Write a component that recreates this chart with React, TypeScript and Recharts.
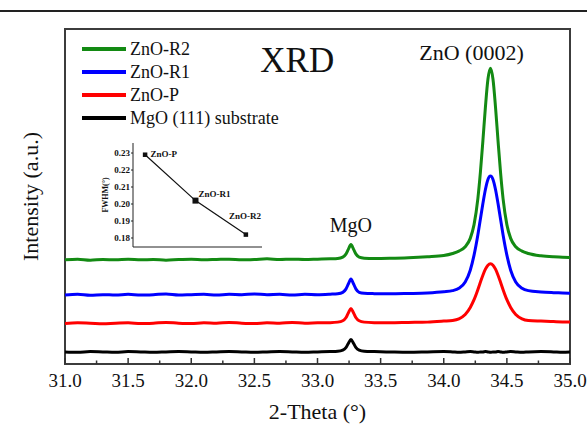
import React from 'react';
import { LineChart, Line, XAxis, YAxis, ReferenceArea, ReferenceDot, Legend, LabelList } from 'recharts';

const FONT = '"Liberation Serif", "Times New Roman", "DejaVu Serif", serif';

// 2-Theta positions (degrees)
const twoTheta = [
  31.0, 31.1, 31.2, 31.3, 31.4, 31.5, 31.6, 31.7, 31.8, 31.9,
  32.0, 32.1, 32.2, 32.3, 32.4, 32.5, 32.6, 32.7, 32.8, 32.9,
  33.0, 33.1, 33.16, 33.2, 33.225, 33.245, 33.265, 33.285, 33.305, 33.33,
  33.37, 33.45, 33.57, 33.72, 33.87, 34.0, 34.07, 34.12, 34.17, 34.21,
  34.24, 34.27, 34.29, 34.31, 34.33, 34.35, 34.37, 34.39, 34.41, 34.43,
  34.45, 34.47, 34.5, 34.53, 34.57, 34.62, 34.67, 34.77, 34.87, 34.94,
  35.0,
];

// Intensities (offset, arbitrary units)
const znoR2 = [
  31.1, 31.3, 31.0, 31.2, 31.1, 31.3, 31.1, 31.2, 31.0, 31.2,
  31.3, 31.1, 31.2, 31.3, 31.1, 31.2, 31.4, 31.2, 31.3, 31.2,
  31.3, 31.4, 31.5, 31.9, 32.8, 34.3, 35.7, 34.3, 32.8, 31.9,
  31.6, 31.5, 31.55, 31.7, 32.0, 32.4, 33.0, 33.7, 35.0, 37.5,
  41.6, 49.3, 57.1, 66.6, 76.7, 85.0, 88.3, 85.0, 76.7, 66.6,
  57.1, 49.3, 41.6, 37.5, 35.0, 33.7, 33.0, 32.3, 32.0, 31.9,
  31.8,
];
const znoR1 = [
  20.6, 20.8, 20.5, 20.7, 20.6, 20.8, 20.6, 20.7, 20.9, 20.6,
  20.7, 20.8, 20.6, 20.8, 20.7, 20.9, 20.7, 20.8, 20.6, 20.8,
  20.7, 20.85, 21.0, 21.4, 22.35, 23.95, 25.35, 23.95, 22.35, 21.4,
  21.1, 21.0, 20.95, 21.05, 21.2, 21.55, 21.9, 22.6, 24.5, 28.0,
  32.5, 38.5, 43.2, 47.9, 52.1, 55.1, 56.1, 55.1, 52.1, 47.9,
  43.2, 38.5, 32.5, 28.0, 24.5, 22.6, 21.9, 21.5, 21.3, 21.2,
  21.1,
];
const znoP = [
  12.1, 12.3, 12.2, 12.0, 12.2, 12.3, 12.1, 12.2, 12.4, 12.2,
  12.1, 12.3, 12.2, 12.4, 12.2, 12.1, 12.3, 12.2, 12.4, 12.2,
  12.3, 12.35, 12.5, 12.9, 13.8, 15.3, 16.6, 15.3, 13.8, 12.9,
  12.5, 12.35, 12.3, 12.4, 12.5, 12.8, 13.0, 13.5, 14.8, 16.9,
  19.2, 22.2, 24.4, 26.5, 28.3, 29.5, 29.9, 29.5, 28.3, 26.5,
  24.4, 22.2, 19.2, 16.9, 14.8, 13.5, 13.0, 12.8, 12.65, 12.55,
  12.5,
];
const mgoSubstrate = [
  3.6, 3.5, 3.7, 3.6, 3.5, 3.7, 3.6, 3.5, 3.6, 3.7,
  3.6, 3.5, 3.6, 3.7, 3.6, 3.5, 3.6, 3.7, 3.6, 3.5,
  3.6, 3.7, 3.8, 4.15, 4.9, 6.2, 7.3, 6.2, 4.9, 4.15,
  3.8, 3.7, 3.6, 3.5, 3.6, 3.7, 3.6, 3.5, 3.6, 3.7,
  3.6, 3.5, 3.6, 3.6, 3.7, 3.6, 3.5, 3.6, 3.6, 3.7,
  3.6, 3.5, 3.6, 3.7, 3.6, 3.5, 3.6, 3.7, 3.6, 3.5,
  3.6,
];

const xTicks = [31, 31.25, 31.5, 31.75, 32, 32.25, 32.5, 32.75, 33, 33.25, 33.5, 33.75, 34, 34.25, 34.5, 34.75, 35];

const seriesNames = ['ZnO-R2', 'ZnO-R1', 'ZnO-P', 'MgO (111) substrate'];
const seriesKeys = ['r2', 'r1', 'p', 'mgo'];
const seriesColors = ['#138a13', '#0000ff', '#ff0000', '#000000'];

// Inset: FWHM
const insetSamples = ['ZnO-P', 'ZnO-R1', 'ZnO-R2'];
const insetIndex = [1, 2, 3];
const insetFwhm = [0.229, 0.202, 0.182];
const insetTicks = [0.18, 0.19, 0.2, 0.21, 0.22, 0.23];

const data = twoTheta.map((x, i) => ({ x, r2: znoR2[i], r1: znoR1[i], p: znoP[i], mgo: mgoSubstrate[i] }));
const insetData = insetIndex.map((x, i) => ({ x, fwhm: insetFwhm[i], name: insetSamples[i] }));

const XTick = (props: any) => {
  const { x, y, payload } = props;
  const v = payload.value;
  const major = Math.abs(v * 2 - Math.round(v * 2)) < 1e-6;
  return (
    <g>
      <line x1={x} x2={x} y1={y} y2={y - (major ? 6 : 3.5)} stroke="#333" strokeWidth={1.5} />
      {major && (
        <text x={x} y={y + 23} textAnchor="middle" fontSize={19} style={{ fontFamily: FONT }} fill="#111">
          {v.toFixed(1)}
        </text>
      )}
    </g>
  );
};

const XTitle = (props: any) => {
  const vb = props.viewBox || { x: 65, y: 364, width: 505 };
  return (
    <text x={vb.x + vb.width / 2} y={vb.y + 55} textAnchor="middle" fontSize={22} style={{ fontFamily: FONT }} fill="#111">
      2-Theta (°)
    </text>
  );
};

const YTitle = (props: any) => {
  const vb = props.viewBox || { x: 0, y: 29, width: 65, height: 335 };
  const cx = vb.x + 38;
  const cy = vb.y + vb.height / 2;
  return (
    <text x={cx} y={cy} transform={`rotate(-90 ${cx} ${cy})`} textAnchor="middle" fontSize={22} style={{ fontFamily: FONT }} fill="#111">
      Intensity (a.u.)
    </text>
  );
};

const Anno = (props: any) => {
  const vb = props.viewBox || { x: 0, y: 0 };
  return (
    <text x={vb.x} y={vb.y} textAnchor="middle" fontSize={props.size} style={{ fontFamily: FONT }} fill="#111">
      {props.text}
    </text>
  );
};

const LegendContent = () => (
  <div style={{ fontFamily: FONT, fontSize: 18, color: '#111' }}>
    {seriesNames.map((n, i) => (
      <div key={n} style={{ display: 'flex', alignItems: 'center', height: 23 }}>
        <svg width={44} height={6} style={{ display: 'block' }}>
          <line x1={0} x2={44} y1={3} y2={3} stroke={seriesColors[i]} strokeWidth={4} />
        </svg>
        <span style={{ marginLeft: 4, lineHeight: '23px', position: 'relative', top: 1 }}>{n}</span>
      </div>
    ))}
  </div>
);

const SquareDot = (props: any) => {
  const { cx, cy, index } = props;
  const s = index === 1 ? 6 : 4.5;
  return <rect x={cx - s / 2} y={cy - s / 2} width={s} height={s} fill="#111" />;
};

const insetOffsets = [
  { dx: 5.5, dy: 2 },
  { dx: 3, dy: -4 },
  { dx: -17, dy: -16 },
];

const InsetLabel = (props: any) => {
  const { x, y, value, index } = props;
  const o = insetOffsets[index] || { dx: 0, dy: 0 };
  return (
    <text x={x + o.dx} y={y + o.dy} fontSize={9} fontWeight="bold" style={{ fontFamily: FONT }} fill="#111">
      {value}
    </text>
  );
};

const InsetYTitle = (props: any) => {
  const vb = props.viewBox || { x: 8, y: 8, width: 30, height: 104 };
  const cx = vb.x + 5;
  const cy = vb.y + vb.height / 2;
  return (
    <text x={cx} y={cy} transform={`rotate(-90 ${cx} ${cy})`} textAnchor="middle" fontSize={8} fontWeight="bold" style={{ fontFamily: FONT }} fill="#111">
      FWHM(°)
    </text>
  );
};

export default function App() {
  return (
    <div style={{ position: 'absolute', left: 0, top: 0, width: 587, height: 426, background: '#fff', overflow: 'hidden', fontFamily: FONT }}>
      <div style={{ position: 'absolute', left: 0, top: 10, width: 587, height: 2, background: '#222' }} />
      <LineChart width={587} height={426} data={data} margin={{ top: 29, right: 17, left: 0, bottom: 0 }}>
        <XAxis
          type="number"
          dataKey="x"
          domain={[31, 35]}
          ticks={xTicks}
          interval={0}
          tickSize={0}
          tickMargin={0}
          tickLine={false}
          axisLine={false}
          tick={<XTick />}
          height={62}
          allowDataOverflow
          label={<XTitle />}
        />
        <YAxis
          type="number"
          domain={[0, 100]}
          tick={false}
          tickLine={false}
          axisLine={false}
          width={65}
          allowDataOverflow
          label={<YTitle />}
        />
        <ReferenceArea x1={31} x2={35} y1={0} y2={100} fill="none" fillOpacity={0} stroke="#3c3c3c" strokeWidth={2} />
        {[3, 2, 1, 0].map((i) => (
          <Line
            key={seriesKeys[i]}
            type="monotone"
            dataKey={seriesKeys[i]}
            name={seriesNames[i]}
            stroke={seriesColors[i]}
            strokeWidth={3}
            dot={false}
            activeDot={false}
            isAnimationActive={false}
          />
        ))}
        <ReferenceDot x={32.84} y={87.2} r={0} fill="none" stroke="none" label={<Anno text="XRD" size={35} />} />
        <ReferenceDot x={34.22} y={90.7} r={0} fill="none" stroke="none" label={<Anno text="ZnO (0002)" size={22} />} />
        <ReferenceDot x={33.265} y={39.4} r={0} fill="none" stroke="none" label={<Anno text="MgO" size={20} />} />
        <Legend
          layout="vertical"
          align="center"
          verticalAlign="middle"
          content={<LegendContent />}
          wrapperStyle={{ left: 82, top: 37, width: 230, height: 92 }}
        />
      </LineChart>
      <div style={{ position: 'absolute', left: 95, top: 135 }}>
        <LineChart width={180} height={125} data={insetData} margin={{ top: 8, right: 13, bottom: 12, left: 8 }}>
          <XAxis
            type="number"
            dataKey="x"
            domain={[0.76, 3.32]}
            tick={false}
            tickLine={false}
            height={1}
            axisLine={{ stroke: '#222', strokeWidth: 1 }}
            allowDataOverflow
          />
          <YAxis
            type="number"
            domain={[0.1747, 0.2359]}
            ticks={insetTicks}
            interval={0}
            width={30}
            tickSize={2}
            tickMargin={1}
            tick={{ fontSize: 9, fontWeight: 'bold', fontFamily: FONT, fill: '#111' }}
            tickFormatter={(v: number) => v.toFixed(2)}
            axisLine={{ stroke: '#222' }}
            tickLine={{ stroke: '#222' }}
            allowDataOverflow
            label={<InsetYTitle />}
          />
          <Line
            type="linear"
            dataKey="fwhm"
            stroke="#111"
            strokeWidth={1.2}
            dot={<SquareDot />}
            activeDot={false}
            isAnimationActive={false}
          >
            <LabelList dataKey="name" content={<InsetLabel />} />
          </Line>
        </LineChart>
      </div>
    </div>
  );
}
